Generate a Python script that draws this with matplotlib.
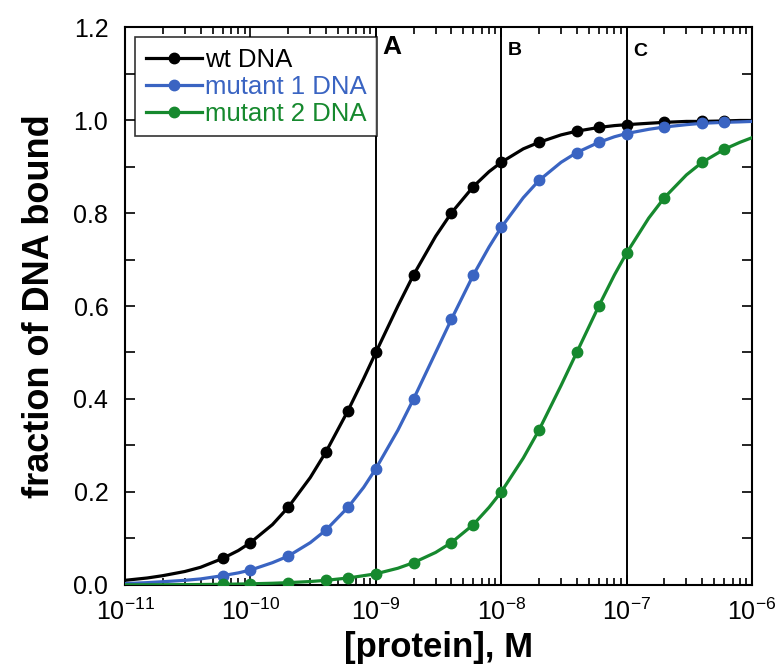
#! /usr/bin/env python
# -*- coding: utf-8 -*-

"""
Fraction of DNA bound vs. protein concentration for wt and two mutants
"""

import numpy
import matplotlib
matplotlib.use("Agg")
from matplotlib import pyplot
from matplotlib import ticker

# protein concentrations of the measured points (M)
conc = [6e-11, 1e-10, 2e-10, 4e-10, 6e-10, 1e-9, 2e-9, 4e-9, 6e-9,
        1e-8, 2e-8, 4e-8, 6e-8, 1e-7, 2e-7, 4e-7, 6e-7]

# fraction bound at the markers
wt = [0.057, 0.091, 0.167, 0.286, 0.375, 0.50, 0.667, 0.80, 0.857,
      0.909, 0.952, 0.976, 0.984, 0.99, 0.995, 0.997, 0.998]
mut1 = [0.020, 0.032, 0.062, 0.118, 0.167, 0.25, 0.40, 0.571, 0.667,
        0.769, 0.87, 0.93, 0.952, 0.971, 0.985, 0.993, 0.995]
mut2 = [0.0015, 0.0025, 0.005, 0.010, 0.015, 0.024, 0.048, 0.091, 0.13,
        0.20, 0.333, 0.50, 0.60, 0.714, 0.833, 0.909, 0.937]

# the drawn fit curves, read at a denser set of concentrations
curve_conc = [1e-11, 1.5e-11, 2e-11, 3e-11, 4e-11, 6e-11, 8e-11,
              1e-10, 1.5e-10, 2e-10, 3e-10, 4e-10, 6e-10, 8e-10,
              1e-9, 1.5e-9, 2e-9, 3e-9, 4e-9, 6e-9, 8e-9,
              1e-8, 1.5e-8, 2e-8, 3e-8, 4e-8, 6e-8, 8e-8,
              1e-7, 1.5e-7, 2e-7, 3e-7, 4e-7, 6e-7, 8e-7, 1e-6]
wt_curve = [0.010, 0.015, 0.020, 0.029, 0.038, 0.057, 0.074,
            0.091, 0.130, 0.167, 0.231, 0.286, 0.375, 0.444,
            0.500, 0.600, 0.667, 0.750, 0.800, 0.857, 0.889,
            0.909, 0.938, 0.952, 0.968, 0.976, 0.984, 0.988,
            0.990, 0.993, 0.995, 0.997, 0.997, 0.998, 0.999, 0.999]
mut1_curve = [0.003, 0.005, 0.007, 0.010, 0.013, 0.020, 0.026,
              0.032, 0.048, 0.062, 0.091, 0.118, 0.167, 0.210,
              0.250, 0.333, 0.400, 0.500, 0.571, 0.667, 0.727,
              0.769, 0.833, 0.870, 0.909, 0.930, 0.952, 0.964,
              0.971, 0.980, 0.985, 0.990, 0.993, 0.995, 0.996, 0.997]
mut2_curve = [0.0003, 0.0004, 0.0005, 0.0008, 0.001, 0.0015, 0.002,
              0.0025, 0.0037, 0.005, 0.0074, 0.010, 0.015, 0.020,
              0.024, 0.036, 0.048, 0.070, 0.091, 0.130, 0.167,
              0.200, 0.273, 0.333, 0.429, 0.500, 0.600, 0.667,
              0.714, 0.789, 0.833, 0.882, 0.909, 0.937, 0.952, 0.962]

labels = ["wt DNA", "mutant 1 DNA", "mutant 2 DNA"]
colors = ["black", "#3a64c2", "#16892e"]

# reference lines and their letters
vlines = [1e-9, 1e-8, 1e-7]
vletters = ["A", "B", "C"]

pyplot.rcParams["font.family"] = ["Liberation Sans", "DejaVu Sans"]
pyplot.rcParams["mathtext.fontset"] = "custom"
pyplot.rcParams["mathtext.rm"] = "Liberation Sans"
pyplot.rcParams["mathtext.it"] = "Liberation Sans:italic"
pyplot.rcParams["mathtext.bf"] = "Liberation Sans:bold"

fig = pyplot.figure(figsize=(7.78, 6.69), dpi=100)
ax = fig.add_axes([0.1607, 0.1256, 0.8059, 0.834])

series = [(wt_curve, wt), (mut1_curve, mut1), (mut2_curve, mut2)]
for (curve, pts), lab, col in zip(series, labels, colors):
    ax.plot(curve_conc, curve, "-", color=col, lw=2.3, zorder=3)
    ax.plot(conc, pts, "o", color=col, ms=7.5, zorder=4)
    ax.plot([], [], "-o", color=col, lw=2.3, ms=7.5, label=lab)

for xv in vlines:
    ax.axvline(xv, color="black", lw=1.4, zorder=2)
for xv, letter, size, yv in zip(vlines, vletters, [19, 14, 14],
                                [1.157, 1.15, 1.148]):
    ax.text(xv * 1.12, yv, letter, fontsize=size, fontweight="bold",
            ha="left", va="center")

ax.set_xscale("log")
ax.set_xlim(1e-11, 1e-6)
ax.set_ylim(0, 1.2)

ax.yaxis.set_major_locator(ticker.MultipleLocator(0.2))
ax.yaxis.set_minor_locator(ticker.MultipleLocator(0.1))
ax.yaxis.set_major_formatter(ticker.FormatStrFormatter("%.1f"))
ax.xaxis.set_major_locator(ticker.LogLocator(base=10, numticks=10))
ax.xaxis.set_minor_locator(ticker.LogLocator(base=10, subs=numpy.arange(2, 10),
                                             numticks=10))
ax.xaxis.set_minor_formatter(ticker.NullFormatter())

ax.tick_params(which="both", direction="in", top=True, right=True,
               labelsize=18, width=1.2)
ax.tick_params(axis="x", which="both", pad=10)
ax.tick_params(axis="y", which="both", pad=12)
ax.tick_params(which="major", length=7)
ax.tick_params(which="minor", length=5)
ax.tick_params(axis="y", which="minor", length=7)
for sp in ax.spines.values():
    sp.set_linewidth(1.5)

ax.set_xlabel("[protein], M", fontsize=25, fontweight="bold", labelpad=4)
ax.set_ylabel("fraction of DNA bound", fontsize=26, fontweight="bold",
              labelpad=12)

legend = ax.legend(loc="upper left", fontsize=18.5, frameon=True,
                   fancybox=False, edgecolor="black", handlelength=2.2,
                   handletextpad=0.1, borderpad=0.4, labelspacing=0.12,
                   borderaxespad=0.4)
legend.get_frame().set_linewidth(1.2)
for txt, col in zip(legend.get_texts(), colors):
    txt.set_color(col)

fig.savefig("out.png", dpi=100)
